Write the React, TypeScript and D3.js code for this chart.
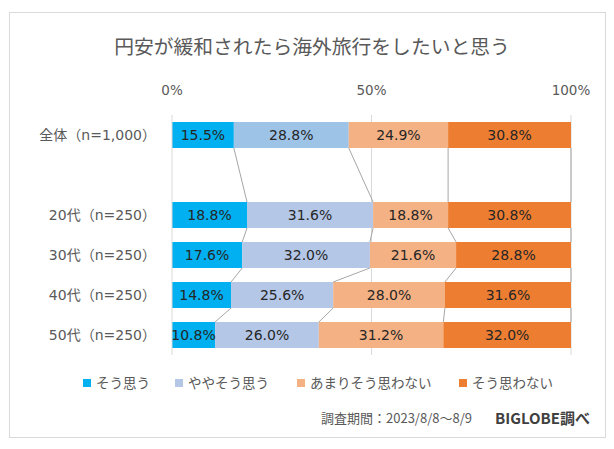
import React from "react";
import * as d3 from "d3";

const title = "円安が緩和されたら海外旅行をしたいと思う";
const categories = ["全体（n=1,000）", "", "20代（n=250）", "30代（n=250）", "40代（n=250）", "50代（n=250）"];
const seriesNames = ["そう思う", "ややそう思う", "あまりそう思わない", "そう思わない"];
const seriesColors = ["#00B0F0", "#B4C7E7", "#F4B183", "#ED7D31"];
const overallSecondColor = "#9DC3E6";
const values: (number[] | null)[] = [
  [15.5, 28.8, 24.9, 30.8],
  null,
  [18.8, 31.6, 18.8, 30.8],
  [17.6, 32.0, 21.6, 28.8],
  [14.8, 25.6, 28.0, 31.6],
  [10.8, 26.0, 31.2, 32.0],
];
const tickValues = [0, 50, 100];
const footerText = "調査期間：2023/8/8～8/9";
const brandText = "BIGLOBE調べ";

const FONT = "'DejaVu Sans', 'Noto Sans CJK JP', sans-serif";

export default function App() {
  const W = 614, H = 449;
  const x = d3.scaleLinear().domain([0, 100]).range([172, 571]);
  const y = d3.scaleBand<number>().domain(d3.range(categories.length)).range([115, 355]).paddingInner(0.35).paddingOuter(0.175);
  const bh = y.bandwidth();

  const stacks = values.map((row) => {
    if (!row) return null;
    const cum: number[] = [0];
    row.forEach((v, i) => cum.push(cum[i] + v));
    return cum;
  });

  const rowIdx = values.map((r, i) => (r ? i : -1)).filter((i) => i >= 0);
  const connectors: { x1: number; y1: number; x2: number; y2: number }[] = [];
  for (let k = 0; k < rowIdx.length - 1; k++) {
    const a = rowIdx[k], b = rowIdx[k + 1];
    const ca = stacks[a]!, cb = stacks[b]!;
    for (let j = 1; j <= 4; j++) {
      connectors.push({ x1: x(ca[j]), y1: y(a)! + bh, x2: x(cb[j]), y2: y(b)! });
    }
  }

  const legendX = [83, 175, 297, 459];

  return (
    <svg width={W} height={H} style={{ position: "absolute", left: 0, top: 0 }} fontFamily={FONT}>
      <rect x={0} y={0} width={W} height={H} fill="#fff" />
      <rect x={9.5} y={12.5} width={596} height={425} fill="#fff" stroke="#D9D9D9" strokeWidth={1} />
      <text x={312} y={54} textAnchor="middle" fontSize={19.8} fill="#595959" fontFamily="'Noto Sans CJK JP', sans-serif">{title}</text>

      {tickValues.map((t) => (
        <g key={t}>
          <text x={x(t)} y={95} textAnchor="middle" fontSize={13.5} fill="#595959">{t}%</text>
          {t > 0 && <line x1={x(t)} x2={x(t)} y1={115} y2={355} stroke="#D9D9D9" strokeWidth={1} />}
        </g>
      ))}

      {categories.map((c, i) => (
        <text key={i} x={156} y={y(i)! + bh / 2 + 5} textAnchor="end" fontSize={14} fill="#595959">{c}</text>
      ))}

      {stacks.map((cum, i) =>
        cum ? (
          <g key={i}>
            {values[i]!.map((v, j) => (
              <rect key={j} x={x(cum[j])} y={y(i)} width={x(cum[j + 1]) - x(cum[j])} height={bh}
                fill={i === 0 && j === 1 ? overallSecondColor : seriesColors[j]} />
            ))}
          </g>
        ) : null
      )}

      {connectors.map((c, k) => (
        <line key={k} x1={c.x1} y1={c.y1} x2={c.x2} y2={c.y2} stroke="#A6A6A6" strokeWidth={1} />
      ))}

      <line x1={x(0)} x2={x(0)} y1={115} y2={355} stroke="#D9D9D9" strokeWidth={1} />

      {stacks.map((cum, i) =>
        cum ? (
          <g key={"l" + i}>
            {values[i]!.map((v, j) => (
              <text key={j} x={(x(cum[j]) + x(cum[j + 1])) / 2} y={y(i)! + bh / 2 + 5} textAnchor="middle" fontSize={14} fill="#262626">{v.toFixed(1)}%</text>
            ))}
          </g>
        ) : null
      )}

      {seriesNames.map((s, i) => (
        <g key={s}>
          <rect x={legendX[i]} y={379} width={8} height={8} fill={seriesColors[i]} />
          <text x={legendX[i] + 13} y={388} fontSize={13.5} fill="#595959">{s}</text>
        </g>
      ))}

      <text x={472} y={423} textAnchor="end" fontSize={13} fill="#595959" fontFamily="'Noto Sans CJK JP', sans-serif">{footerText}</text>
      <text x={590} y={424} textAnchor="end" fontSize={15} fontWeight="bold" fill="#404040" fontFamily="'Noto Sans CJK JP', sans-serif">{brandText}</text>
    </svg>
  );
}
